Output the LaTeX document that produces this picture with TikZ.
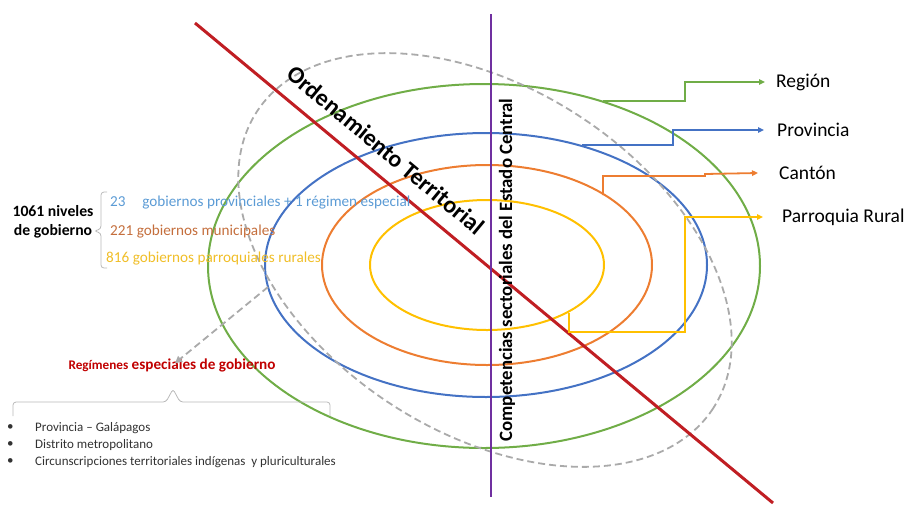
\documentclass[tikz,border=0pt]{standalone}
\usepackage{fontspec}
\setmainfont{Carlito}
\usetikzlibrary{arrows.meta}
\definecolor{cgreen}{RGB}{112,173,71}
\definecolor{cblue}{RGB}{68,114,196}
\definecolor{corange}{RGB}{237,125,49}
\definecolor{cyellow}{RGB}{255,192,0}
\definecolor{cred}{RGB}{192,30,35}
\definecolor{cpurple}{RGB}{112,48,160}
\definecolor{cgrey}{RGB}{170,170,170}
\definecolor{cbrace}{RGB}{185,185,185}
\definecolor{ctblue}{RGB}{91,155,213}
\definecolor{ctbrown}{RGB}{196,110,60}
\definecolor{ctgold}{RGB}{240,190,40}
\definecolor{ctred}{RGB}{192,0,0}
\definecolor{ctgrey}{RGB}{50,50,50}
\begin{document}
\begin{tikzpicture}[x=1pt,y=-1pt,
  ring/.style={line width=2pt},
  conn/.style={line width=1.8pt,-{Triangle[length=6pt,width=5.5pt]}},
  lbl/.style={anchor=west,inner sep=0pt,font=\fontsize{19.5}{22}\selectfont},
  lefttxt/.style={anchor=west,inner sep=0pt,font=\fontsize{15.2}{17}\selectfont},
  bul/.style={anchor=west,inner sep=0pt,font=\fontsize{13}{15}\selectfont,text=ctgrey},
  bracesty/.style={cbrace,line width=0.8pt,rounded corners=3pt},
  dashsty/.style={cgrey,line width=1.8pt,dash pattern=on 7pt off 4pt}]
\useasboundingbox (0,0) rectangle (908,504);

% rings
\draw[ring,cgreen]  (484,266) ellipse [x radius=276pt,y radius=182pt];
\draw[ring,cblue]   (486,265) ellipse [x radius=221pt,y radius=132pt];
\draw[ring,corange] (487,265) ellipse [x radius=165pt,y radius=100pt];
\draw[ring,cyellow] (487,265) ellipse [x radius=117pt,y radius=65pt];
% dashed tilted ellipse (major axis from upper left to lower right)
\draw[dashsty] plot[domain=0:360,samples=181,smooth,variable=\t]
  ({485+272*cos(\t)*0.839-172*sin(\t)*0.545},{260+272*cos(\t)*0.545+172*sin(\t)*0.839}) -- cycle;

% axes
\coordinate (rA) at (195,23);
\coordinate (rB) at (773,503);
\coordinate (pA) at (491,14);
\coordinate (pB) at (491,497);
\draw[cred,line width=3pt] (rA) -- (rB);
\draw[cpurple,line width=2.5pt] (pA) -- (pB);

\node[rotate=-39.7,inner sep=0pt,font=\fontsize{24}{26}\bfseries] (ot) at (386,150) {Ordenamiento Territorial};
\node[rotate=90,inner sep=0pt,font=\fontsize{18.8}{20}\bfseries] (comp) at (507,270) {Competencias sectoriales del Estado Central};

% right labels and connectors
\node[lbl] (reg) at (776,82) {Región};
\node[lbl] (prov) at (777,130) {Provincia};
\node[lbl] (can) at (779,173) {Cantón};
\node[lbl] (par) at (782,217) {Parroquia Rural};
\coordinate (gs) at (603,101);
\coordinate (bs) at (582,145);
\coordinate (os) at (603,195);
\coordinate (ys) at (569,313);
\draw[conn,cgreen] (gs) -- (685,101) |- ([xshift=-11pt]reg.west);
\draw[conn,cblue] (bs) -- (673,145) |- ([xshift=-13pt]prov.west);
\draw[conn,corange] (os) -- (603,176) -- (705,176) -- (705,174) -- ([xshift=-21pt]can.west);
\draw[conn,cyellow] (ys) -- (569,332) -- (685,332) |- ([xshift=-19pt]par.west);

% left block
\node[inner sep=0pt,align=center,font=\fontsize{15.7}{19}\bfseries] (niv) at (53,222) {1061 niveles\\de gobierno};
\node[lefttxt,text=ctblue] (t1) at (110,203) {23\hspace{1.1em}gobiernos provinciales + 1 régimen especial};
\node[lefttxt,text=ctbrown] (t2) at (110,232) {221 gobiernos municipales};
\node[lefttxt,text=ctgold] (t3) at (106,259) {816 gobiernos parroquiales rurales};
\draw[bracesty] (107,192) -- (101,192) -- (101,229) -- (94,231) -- (101,233) -- (101,268) -- (107,268);

% regimenes
\node[inner sep=0pt,text=ctred,font=\fontsize{15.2}{17}\bfseries] (regim) at (172,365) {{\fontsize{13.2}{15}\selectfont Regímenes} especiales de gobierno};
\coordinate (ds) at (268,287);
\draw[dashsty,-{Triangle[length=7pt,width=7pt]}] (ds) -- ([xshift=3pt,yshift=-5pt]regim.north);
\draw[bracesty] (13,416) -- (13,402) -- (166,402) -- (173,389) -- (180,402) -- (330,402) -- (330,416);

\node[bul] (dot1) at (7,428) {•};
\node[bul] (dot2) at (7,445) {•};
\node[bul] (dot3) at (7,462) {•};
\node[bul] (b1) at (35,428) {Provincia – Galápagos};
\node[bul] (b2) at (35,445) {Distrito metropolitano};
\node[bul] (b3) at (35,462) {Circunscripciones territoriales indígenas\ \ y pluriculturales};
\end{tikzpicture}
\end{document}
